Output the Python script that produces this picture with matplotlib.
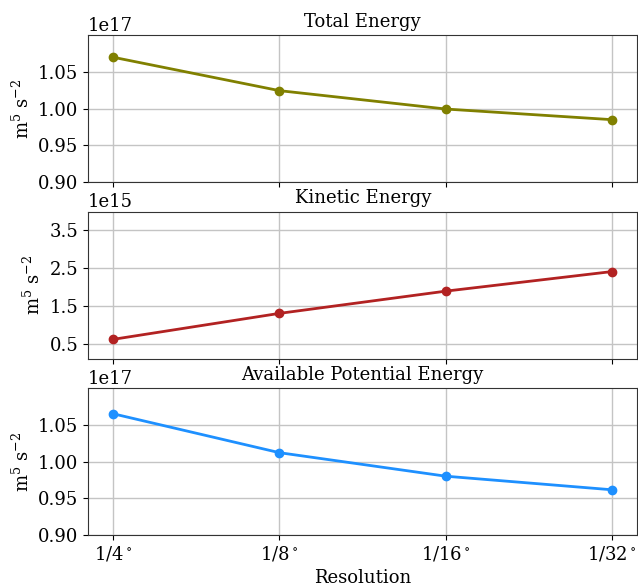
import numpy as np
import matplotlib
matplotlib.use("Agg")
import matplotlib.pyplot as plt

plt.rcParams['font.family'] = 'DejaVu Serif'
plt.rcParams['mathtext.fontset'] = 'dejavuserif'
plt.rcParams['font.size'] = 13

# Data
resolutions = [r'$1/4^\circ$', r'$1/8^\circ$', r'$1/16^\circ$', r'$1/32^\circ$']
total_energy = np.array([1.070, 1.0245, 0.9995, 0.985]) * 1e17
kinetic_energy = np.array([0.61, 1.30, 1.89, 2.41]) * 1e15
ape = np.array([1.065, 1.012, 0.980, 0.9615]) * 1e17

titles = ['Total Energy', 'Kinetic Energy', 'Available Potential Energy']
series = [total_energy, kinetic_energy, ape]
colors = ['olive', 'firebrick', 'dodgerblue']
ylims = [(0.9e17, 1.1e17), (0.1e15, 4.0e15), (0.9e17, 1.1e17)]
yticks = [[0.9e17, 0.95e17, 1.0e17, 1.05e17],
          [0.5e15, 1.5e15, 2.5e15, 3.5e15],
          [0.9e17, 0.95e17, 1.0e17, 1.05e17]]

x = np.arange(len(resolutions))

fig, axes = plt.subplots(3, 1, figsize=(6.38, 5.86), sharex=True)
fig.subplots_adjust(left=0.138, right=0.999, top=0.94, bottom=0.087, hspace=0.2)

for ax, t, y, c, yl, yt in zip(axes, titles, series, colors, ylims, yticks):
    ax.plot(x, y, color=c, marker='o', lw=2, ms=6)
    ax.set_title(t, fontsize=13, pad=6)
    ax.set_ylim(yl)
    ax.set_yticks(yt)
    ax.set_ylabel(r'$\mathrm{m^5\ s^{-2}}$', fontsize=13)
    ax.grid(True, color='#c4c4c4', lw=1)
    for s in ax.spines.values():
        s.set_color('#333333')

axes[-1].set_xticks(x)
axes[-1].set_xticklabels(resolutions)
axes[-1].set_xlabel('Resolution')

fig.savefig('out.png', dpi=100)
